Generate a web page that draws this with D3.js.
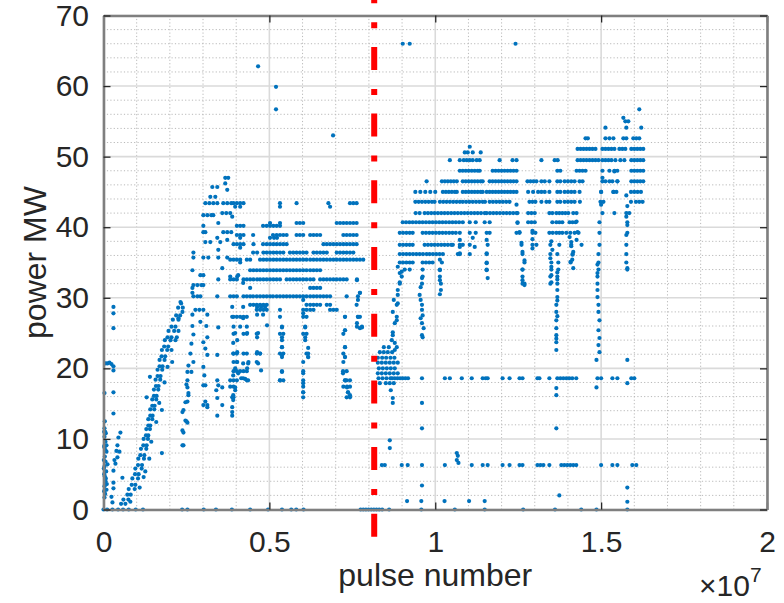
<!DOCTYPE html>
<html><head><meta charset="utf-8">
<script src="https://cdn.jsdelivr.net/npm/d3@7"></script>
<style>
body{margin:0;background:#fff}
svg{display:block}
text{font-family:"Liberation Sans",Arial,Helvetica,sans-serif;}
</style>
</head><body>
<svg id="chart" width="784" height="603"></svg>
<script>
// ---------- values ----------
const PULSE_UNIT = 1e5;               // x values below are pulse number / 1e5
const xTickValues = [0, 5e6, 1e7, 1.5e7, 2e7];
const xTickLabels = ["0", "0.5", "1", "1.5", "2"];
const yTickValues = [0, 10, 20, 30, 40, 50, 60, 70];
const yTickLabels = ["0", "10", "20", "30", "40", "50", "60", "70"];
const xLabel = "pulse number";
const yLabel = "power MW";
const thresholdPulse = 8.16e6;        // red dash-dot marker

// rows: [power MW, [pulse/1e5, ...]]
const zeroRows = [
  [0, [0, 1.1, 2.7, 4.4, 5.9, 7.6, 9.7, 11.9, 23.7, 25.3, 30.2, 33.9, 38.7, 44.2, 49.6, 53.8, 56.6, 58.1, 60.3,
       77.5, 78.3, 79.1, 79.9, 80.7, 81.5, 82.3, 83.1, 84.0, 86.1, 95.8, 105.9, 114.9, 126.5, 136.1, 144.0, 148.6, 157.9]],
  [1.2, [91.5, 95.8, 102.8, 110.2, 114.9]]
];

const bandRows = [
  [18.6, [87, 87.8, 88.6, 89.4, 90.2, 91, 91.8, 96, 102.9, 104.4, 108, 111, 114.3, 115.2, 115.8, 120.3, 122.4, 125.4, 126.3,
          130.8, 131.4, 134.4, 136.8, 137.7, 138.6, 139.5, 140.4, 141.3, 142.5, 148.9, 150, 153.4, 154.9, 159.1, 160]],
  [6.3, [83.9, 84.8, 89.9, 91.7, 96, 102.9, 111, 114.3, 115.8, 120.3, 122.4, 125.4, 126.3, 130.8, 131.7, 132.6, 134.4,
         138, 138.9, 139.8, 140.7, 141.6, 142.5, 150, 153.4, 154.9, 159.4, 160.6]]
];

const rampRows = [
  [0.8,[5.3,6.6]],[1.4,[6.0,7.5]],[2.1,[7.2,8.2]],[2.9,[7.6,9.4]],[3.5,[8.5,9.6]],[4.4,[8.7,10.4]],
  [5.0,[9.5,10.6]],[5.8,[9.6,11.5]],[6.3,[10.4,11.6]],[7.2,[10.5,12.2]],[7.7,[11.1,12.3]],[8.6,[11.3,12.9]],
  [9.1,[12.0,13.0]],[10.0,[12.1,13.4]],[10.5,[12.8,13.5]],[11.4,[12.9,14.0]],[11.9,[13.5,14.1]],[12.8,[13.5,14.7]],
  [13.3,[14.1,14.8]],[14.2,[14.1,15.3]],[14.7,[14.7,15.4]],[15.6,[14.7,15.9]],[16.1,[15.2,16.0]],[17.0,[15.2,16.5]],
  [17.5,[15.8,16.6]],[18.4,[15.7,17.1]],[18.9,[16.3,17.2]],[19.8,[16.3,17.7]],[20.3,[16.9,17.8]],[21.2,[16.9,18.4]],
  [21.7,[17.5,18.6]],[22.6,[17.6,19.2,20.5]],[23.1,[18.3,19.5]],[24.0,[18.5,20.2,21.7]],[24.4,[19.3,20.5,22.1]],
  [25.3,[19.6,21.3,22.6]],[25.9,[20.5,21.7]],[26.9,[20.9,22.6]],[27.5,[21.9,23.1]],[28.6,[22.5,23.9]],[29.2,[23.4]]
];

const plateauRows = [
  [47.0,[36.7,37.6]],[46.2,[36.7]],[45.7,[32.8,34.3]],[45.3,[37.3]],[44.3,[32.2,33.7]],
  [43.4,[30.7,31.9,33.1,34.3,36.1,37.3,38.5,39.2,40.2,41.2,42.2,53.2,58.2,67.8,74.3,75.3,76.3]],
  [42.9,[39.7,41.2,53.2,68.3]],[42.0,[35.8,37.0,38.2]],[41.7,[30.1,31.3,32.5,33.1]],[41.5,[38.8]],
  [40.6,[34.6,50.2,53.2,58.2,59.2,60.2,70.3,71.3,72.3,73.3,74.3,75.3,76.3]],
  [40.2,[30.1,40.2,41.2,42.2,48.1,49.2,50.2,51.2,52.2,53.2]],
  [39.3,[30.1,30.7,36.1,37.3,38.5]],
  [38.9,[40.2,41.2,42.2,45.1,51.1,52.2,53.2,54.2,55.2,58.2,59.2,60.2,62.3,63.3,64.3,65.3,72.3,73.3,74.3,75.3,76.3]],
  [38.5,[34.3,41.2,50.2,51.4,52.3]],[38.2,[37.3]],[37.9,[30.7,32.2,35.2]],
  [37.6,[39.2,40.2,41.2,42.2,45.2,48.1,49.2,50.2,51.2,52.2,53.2,54.2,55.2,66.3,67.3,68.3,69.3,70.3,71.3,72.3,73.3,74.3,75.3,76.3]],
  [37.1,[41.2]],[36.8,[34.6]],
  [36.4,[27.1,45.1,46.3,48.2,49.2,50.2,51.2,52.2,53.2,54.2,56.2,57.2,58.2,59.2,60.2,61.2,63.3,64.3,65.3,66.3,67.3,70.3,71.3,72.3,73.3,74.3,75.3]],
  [35.7,[27.1,30.1,31.6,34.6,37.3]],
  [35.4,[38.2,39.2,40.2,41.2,43.2,44.2,47.2,48.2,49.2,50.2,51.2,52.2,53.2,54.2,55.2,56.2,57.2,58.2,59.2,60.2,61.2,62.3,63.3,64.3,65.3,66.3,67.3,68.3,69.3,70.3,71.3,72.3,73.3,74.3,75.3,76.3,77.3,78.3]],
  [35.0,[41.2]],[34.2,[35.8]],
  [33.9,[26.8,44.2,45.2,46.2,47.2,48.2,49.2,50.2,51.2,52.2,53.2,54.2,55.2,56.2,57.2,58.2,59.2,60.2,61.2,62.3,63.3,64.3,65.3]],
  [33.2,[29.2,30.1,40.6]],[33.0,[38.2,40.3]],
  [32.6,[34.6,38.2,39.2,40.2,42.2,43.2,44.2,45.2,46.3,47.2,48.2,49.2,50.2,51.2,52.2,53.2,55.2,56.2,57.2,58.2,59.2,60.2,61.2,62.3,63.3,65.3,66.3,67.3,68.3,69.3,70.3,71.3,72.3,73.3,76.4]],
  [32.1,[42.1]],[31.8,[27.1,28.3,29.5,30.1]],[31.4,[26.8,44.2,62.3,63.3,64.3,65.3]],[30.7,[26.8,77.3]],
  [30.2,[27.1,28.3,29.2,34.3,38.2,39.2,40.2,42.2,43.2,44.2,45.1,46.2,47.2,48.2,49.2,50.2,51.1,52.2,53.2,54.2,55.2,56.2,57.2,58.2,59.2,60.2,61.2,62.3,63.3,64.3,65.3,66.3,67.3,68.3,73.3,76.7]],
  [29.4,[23.2]],
  [29.0,[44.2,45.2,46.2,47.2,48.2,49.2,61.2,62.3,63.3,64.3,65.3,67.3,68.3,76.3]],
  [28.7,[38.8,42.1,46.3,47.5,48.7]],
  [28.3,[27.7,28.9,30.1,46.2,47.2,48.2,49.2,53.2,60.2,61.2,62.3,63.3,68.3,69.3,70.3]],
  [28.0,[23.8]],[27.6,[26.8,31.3,46.3,48.1]],
  [27.3,[38.8,39.2,40.2,41.2,42.2,43.2,53.2,60.2,61.2,72.8,76.7,77.3]],
  [27.1,[22.6,42.1]],[26.6,[29.2]],[26.1,[49.3]],
  [25.9,[39.2,41.2,43.2,53.8,60.8,76.4,77.9]],[25.4,[72.8]],[25.0,[46.6]],
  [24.9,[39.2,42.2,43.2,46.2,53.2,54.2,60.2,61.2,72.3]],[24.0,[53.8,60.8]],[23.0,[53.8,72.8]],
  [22.1,[39.2,40.2,42.2,43.2,46.2,47.2,53.2,54.2,61.2,61.7,72.3]],[21.6,[53.8,61.7,72.8]],
  [20.9,[39.2,40.2,43.7,46.2,60.2,72.3]],
  [19.6,[39.2,40.2,41.2,42.2,43.2,53.8,60.2,72.2,73.3]],
  [18.3,[39.2,40.2,43.2,53.2,54.2,60.2,72.8,73.3,74.3]],
  [17.4,[38.2,39.2,60.2,72.3,73.4,74.3]],[16.6,[60.2,73.7]],[15.9,[39.2,60.2,73.3,74.3]]
];

const upperRightRows = [
  [56.7,[161.5]],[55.5,[156.7]],[55.0,[157.3,158.2]],[54.1,[151.3,157.6,162.1]],
  [52.6,[145.3,146.0,151.3,152.5,153.7,156.7,157.6,159.7,160.6,161.5]],
  [51.4,[110.4]],
  [51.1,[142.9,143.8,144.7,145.6,146.5,147.4,148.3,150.4,151.3,152.2,153.1,154.0,155.5,156.4,157.3,159.1,160.0,160.9,161.8,162.7]],
  [50.6,[108.9,109.8,111.3,113.7]],
  [49.5,[104.4,107.4,108.6,109.5,110.4,111.3,112.5,113.4,119.4,123.3,124.5,132.0,136.0,136.9,142.9,143.8,144.7,145.6,146.5,147.4,148.3,149.2,150.4,151.3,152.2,153.1,154.3,155.8,157.0,159.1,160.0,160.9,161.8,162.7]],
  [48.0,[107.4,108.3,109.2,110.1,111.0,111.9,112.8,113.4,117.3,118.2,119.1,120.0,120.9,121.8,122.7,123.6,124.5,136.8,137.7,142.6,143.5,144.4,145.3,150.4,152.5,154.0,154.9,159.1,160.0,160.9,161.8,162.7]],
  [46.5,[97.4,102.0,102.9,103.8,104.7,105.6,106.5,108.3,109.2,110.1,111.0,111.9,112.8,113.7,114.3,116.4,117.3,118.2,119.1,120.0,120.9,121.8,122.7,123.6,124.5,127.8,128.7,129.6,130.5,132.0,133.0,134.4,136.8,137.7,139.0,140.0,141.0,142.0,143.5,144.4,150.4,151.3,152.5,153.4,154.9,159.1,160.0,160.9,161.8,162.7]],
  [45.0,[94.0,95.5,97.0,98.5,100.0,102.3,103.2,104.1,105.0,105.9,106.5,108.3,109.2,110.1,111.0,111.9,112.8,113.7,114.3,115.5,116.4,117.3,118.2,119.1,120.0,120.9,121.8,122.7,123.6,124.5,128.0,129.5,131.0,132.0,133.0,134.4,136.8,137.7,139.0,140.0,141.0,142.0,143.5,150.0,153.7,154.6,159.0,160.0,161.0,162.0]],
  [43.6,[94.0,95.0,96.0,97.0,98.0,99.0,99.8,101.4,102.4,103.4,104.4,105.4,106.4,107.4,108.3,109.3,110.3,111.3,112.3,113.3,114.3,115.0,116.4,117.4,118.4,119.4,120.4,121.4,122.4,128.4,129.3,130.2,132.0,133.5,134.4,136.8,137.7,139.0,140.0,141.0,142.0,143.6,149.8,150.7,159.0,160.5,161.5,162.5]],
  [42.0,[94.1,95.3,96.8,97.8,98.8,99.8,100.8,101.8,102.8,103.8,104.8,105.8,106.8,107.8,108.8,109.8,110.8,111.8,112.8,113.8,114.9,115.5,116.5,117.5,118.5,119.5,120.5,121.5,122.5,123.5,124.5,128.0,129.0,130.0,134.4,135.3,136.5,137.4,138.3,139.2,140.1,141.6,142.6,150.4,154.0,157.6,158.5]],
  [40.7,[90.2,91.2,92.2,93.2,94.2,95.2,96.2,97.2,98.2,99.2,100.2,101.2,102.2,103.2,104.2,105.2,106.2,107.2,108.3,110.4,112.2,114.9,116.4,124.8,128.0,129.0,130.0,135.3,136.5,137.4,138.3,140.5,141.4,142.3,149.5,157.9]],
  [39.2,[89.3,90.3,91.3,92.3,93.2,96.2,97.2,98.2,99.2,100.2,101.2,102.2,103.2,104.2,105.2,106.2,107.4,110.4,112.2,115.5,116.4,124.5,125.4,129.3,130.2,134.4,135.4,136.5,137.4,138.3,139.5,140.7,142.0,143.2,149.5,157.9]],
  [37.5,[89.3,90.3,91.3,92.3,93.2,96.8,97.8,98.8,99.8,100.8,101.8,102.8,103.8,104.8,105.3,107.4,108.3,110.4,115.8,126.0,129.3,130.5,134.7,137.4,141.0,144.1,149.5,157.6]],
  [36.2,[89.3,90.3,91.3,92.3,93.3,94.3,95.3,96.3,97.4,98.3,99.3,100.3,101.3,102.3,106.8,107.4,110.4,115.5,126.3,134.7,136.8,141.4,149.2,157.6]],
  [35.0,[89.3,90.3,91.3,92.3,93.2,96.2,97.2,98.2,99.2,102.0,115.5,126.9,135.0,137.1,140.8,149.2,157.6]],
  [34.0,[90.8,92.3,96.2,101.4,115.5,126.3,135.0,137.1,149.2,157.9]],
  [33.0,[89.9,96.2,101.4,126.3,134.7,136.8,148.9]],
  [32.0,[89.3,96.0,101.7,126.3,126.9,134.7,136.8,148.9]]
];

const clusterRows = [
  [23.0,[84.5,86.0,88.4]],[22.3,[83.3,84.5,85.7,87.0]],[21.5,[82.7,84.0,85.2,86.5,87.7]],
  [20.8,[82.7,83.9,85.1,86.3,87.5,88.7]],[20.0,[83.0,84.2,85.4,86.6,87.8]],
  [19.3,[82.7,83.9,85.1,86.3,87.5,88.7]],[18.6,[82.9,84.1,85.3,86.5]],[17.9,[83.3,85.1,87.5]]
];

// points: [pulse/1e5, power MW]
const earlyPoints = [
  [0.3,11.5],[0.5,11.0],[0.3,10.3],[0.6,9.6],[0.3,8.8],[0.9,8.2],[0.4,7.5],[0.6,6.8],[0.3,6.1],[0.8,5.4],
  [0.4,4.7],[0.6,4.0],[0.3,3.3],[0.9,2.8],[0.5,2.2],[0.3,1.7],[1.0,3.6],[0.2,5.0],[1.2,6.4],[0.2,9.0],
  [0.7,10.8],[0.4,12.5],[0.1,7.0],[0.2,2.6],[0.7,4.4],[0.1,5.8],[0.6,8.4],[0.2,11.0],[0.9,9.1],
  [0.6,20.7],[1.2,20.7],[1.8,20.8],[2.4,20.6],[3.0,20.3],[3.0,19.7],[3.0,16.6],[3.0,13.6],[3.0,28.7],
  [3.0,27.8],[3.0,25.7],[0.3,16.5],
  [5.1,10.9],[4.5,10.2],[4.2,9.1],[4.2,7.4],[3.6,6.5],[3.0,5.5],[3.0,3.8],[3.0,3.0],[2.7,1.0],[5.7,4.5],
  [4.8,8.2],[3.3,7.0],[3.9,8.3],[2.4,1.8],
  [12.1,4.6],[17.6,8.0],[17.6,14.1],[20.7,20.9],[13.8,7.2],[8.1,1.1],[10.9,3.1],[12.6,5.4],[14.4,9.6],
  [15.9,12.4],[16.8,15.1],[13.0,15.9],[14.0,18.8],[18.4,18.0],[19.3,20.2]
];

const midPoints = [
  [24.1,9.1],[24.1,10.9],[25.0,12.5],[24.1,14.1],[25.3,15.3],[25.6,16.5],[25.0,17.7],[26.2,22.1],[27.1,20.9],
  [26.5,19.5],[25.6,20.4],[25.3,19.5],[25.3,18.3],[25.3,17.3],[25.6,16.2],[24.7,15.2],[23.8,13.8],[24.7,12.6],
  [25.3,12.3],[23.8,11.2],[23.8,9.1],[26.5,23.5],[27.1,24.8],[26.8,26.0],
  [31.3,24.4],[30.1,23.7],[31.3,21.9],[30.1,20.2],[30.7,17.6],[30.1,14.8],[31.3,14.8],[30.1,17.6],[30.7,15.3],
  [31.3,14.5],[30.4,19.0],[30.7,22.8],[31.0,26.0],
  [34.3,21.9],[34.3,18.3],[34.6,17.6],[34.3,15.8],[34.3,13.3],[35.8,17.3],[35.8,14.8],[34.0,16.9],[34.6,25.8],
  [40.3,24.0],[40.3,22.3],[39.1,22.1],[40.3,20.9],[39.7,20.0],[42.1,20.7],[43.3,20.0],[39.1,19.0],[39.7,17.3],
  [38.8,15.9],[38.8,13.8],[42.1,18.6],[43.6,20.7],[46.3,22.3],[46.6,20.7],[46.3,24.4],[43.3,25.0],[39.7,25.0],
  [39.1,23.6],[38.2,18.3],[39.7,16.9],[39.1,16.2],[39.1,15.5],[38.8,14.5],[38.8,13.3],[40.6,19.3],[41.5,18.6],
  [42.7,18.5],[43.6,18.3],[47.2,22.1],[47.5,19.7],
  [53.8,25.8],[53.8,24.4],[53.8,23.0],[53.8,21.9],[53.8,19.5],[53.2,18.3],
  [60.2,29.7],[60.2,27.8],[60.8,25.8],[60.8,24.4],[61.7,22.9],[61.7,21.6],[60.2,19.3],[60.2,17.9],[60.2,16.6],
  [72.8,27.3],[72.8,25.4],[72.8,23.0],[72.8,21.6],[72.2,19.3],[73.4,17.3],[73.7,16.6],[72.8,18.3],[74.3,16.2],
  [76.4,32.5],[77.3,30.7],[76.7,29.7],[76.4,26.4],[77.3,25.7],[76.7,27.3],[77.9,25.8]
];

const rightStrandPoints = [
  [87.8,22.6],[87.2,24.7],[87.8,26.4],[88.4,27.3],[88.4,29.0],[88.7,30.4],[88.7,31.1],[89.3,32.2],[89.9,33.7],
  [86.9,24.0],[87.2,28.0],[87.5,29.7],[88.7,34.4],[89.3,33.5],[87.2,25.1],[87.8,23.6],[88.4,26.8],[88.7,29.2],
  [96.0,32.8],[95.3,30.4],[96.0,29.0],[96.2,27.5],[96.0,26.4],[96.0,24.7],[95.6,29.7],[96.0,28.3],[95.6,27.1],
  [96.5,25.7],[96.2,24.4],[95.6,31.5],
  [101.4,35.4],[101.4,33.9],[101.4,32.5],[101.7,31.1],[101.4,30.5],
  [107.4,38.2],[107.4,37.2],[107.4,36.3],[111.3,38.5],[111.9,37.2],
  [115.5,38.2],[115.5,36.3],[115.5,34.9],[115.5,33.9],[115.8,32.8],
  [124.5,43.2],[124.8,42.0],[124.8,40.6],[125.4,39.3],[126.0,37.8],[126.3,36.5],[126.9,35.3],[126.3,34.0],
  [126.3,32.5],[126.9,31.8],
  [129.3,39.5],[129.3,38.3],[129.3,37.0],
  [135.0,38.0],[135.3,36.8],[134.7,35.6],[135.0,34.4],[135.0,33.2],[135.0,32.2],
  [136.8,33.6],[136.8,32.6],[136.8,31.1],[136.8,30.1],[136.5,29.0],[136.5,28.0],[136.5,26.8],[136.5,25.7],
  [136.5,24.7],[136.5,23.7],[136.5,22.6],[136.8,27.4],[136.5,24.2],[136.8,29.6],
  [140.5,38.6],[141.0,37.3],[141.4,36.1],[140.8,35.1],[141.6,34.2],[141.0,37.9],[141.6,36.5],[141.3,35.4],
  [142.6,40.8],[142.9,39.3],[142.6,38.2],
  [148.9,31.1],[148.9,30.1],[149.2,29.0],[149.2,28.0],[149.5,26.8],[149.2,25.4],[149.5,24.3],[149.2,23.3],
  [149.5,22.3],[148.9,33.5],[148.9,34.7],
  [150.4,47.0],[150.0,45.0],[150.0,43.2],[154.0,47.9],[154.9,46.5],[153.7,45.0],
  [157.6,44.5],[157.9,43.0],[157.6,41.5],[157.9,40.3],[157.6,38.9],[157.9,34.2],
  [106.5,7.0],[106.8,7.6],[106.5,8.0],[107.0,6.6]
];

const lowPoints = [
  [86.3,9.8],[86.3,8.7],[96.0,3.4],[137.4,2.0],[157.9,3.1],[157.9,1.1],[96.0,15.1],[96.0,11.5],
  [136.5,11.5],[136.5,17.2],[136.5,16.2],[148.6,17.3],[157.9,17.9],[157.9,21.2],[148.6,21.2],[87.2,15.1],
  [87.2,15.8],[86.6,16.9],[86.3,17.9]
];

const outlierPoints = [
  [46.6,62.8],[52.0,59.9],[52.0,56.7],[69.2,53.0],[90.2,66.0],[92.3,66.0],[124.2,66.0]
];

// ---------- drawing ----------
const W = 784, H = 603;
const plot = {left: 103.5, right: 767, top: 15.5, bottom: 509.5};
const x = d3.scaleLinear().domain([0, 2e7]).range([plot.left, plot.right]);
const y = d3.scaleLinear().domain([0, 70]).range([plot.bottom, plot.top]);

const svg = d3.select("#chart");
svg.append("rect").attr("width", W).attr("height", H).attr("fill", "#fff");

// minor grid (dotted)
const gMinor = svg.append("g");
gMinor.selectAll("line.vx").data(x.ticks(20).filter(v => v % 5e6 !== 0)).join("line")
  .attr("x1", d => x(d)).attr("x2", d => x(d)).attr("y1", plot.top).attr("y2", plot.bottom);
gMinor.selectAll("line.hy").data(y.ticks(35).filter(v => v % 10 !== 0)).join("line")
  .attr("x1", plot.left).attr("x2", plot.right).attr("y1", d => y(d)).attr("y2", d => y(d));
gMinor.selectAll("line").attr("stroke", "#b9b9b9").attr("stroke-width", 1).attr("stroke-dasharray", "1.2,2.2");

// major grid
const gMajor = svg.append("g");
gMajor.selectAll("line.v").data(xTickValues).join("line")
  .attr("x1", d => x(d)).attr("x2", d => x(d)).attr("y1", plot.top).attr("y2", plot.bottom);
gMajor.selectAll("line.h").data(yTickValues).join("line")
  .attr("x1", plot.left).attr("x2", plot.right).attr("y1", d => y(d)).attr("y2", d => y(d));
gMajor.selectAll("line").attr("stroke", "#dadada").attr("stroke-width", 1.6);

// points
const pts = [];
[zeroRows, bandRows, rampRows, plateauRows, upperRightRows, clusterRows].forEach(rows =>
  rows.forEach(([p, xs]) => xs.forEach(u => pts.push([u, p]))));
[earlyPoints, midPoints, rightStrandPoints, lowPoints, outlierPoints].forEach(list =>
  list.forEach(d => pts.push(d)));

svg.append("g").selectAll("circle").data(pts).join("circle")
  .attr("cx", d => x(d[0] * PULSE_UNIT))
  .attr("cy", d => y(d[1]))
  .attr("r", 2.1)
  .attr("fill", "#0072BD");

// axes
const fontFamily = '"Liberation Sans", Arial, Helvetica, sans-serif';
function styleAxis(g) {
  g.attr("font-family", fontFamily).attr("font-size", 30);
  g.select(".domain").attr("stroke", "#7f7f7f").attr("stroke-width", 2.6);
  g.selectAll(".tick line").attr("stroke", "#262626").attr("stroke-width", 1.3);
  g.selectAll(".tick text").attr("fill", "#262626");
}
svg.append("g").attr("transform", `translate(0,${plot.bottom})`)
  .call(d3.axisBottom(x).tickValues(xTickValues).tickFormat((d, i) => xTickLabels[i])
        .tickSizeInner(-7).tickSizeOuter(0).tickPadding(21.5))
  .call(styleAxis);
svg.append("g").attr("transform", `translate(0,${plot.top})`)
  .call(d3.axisTop(x).tickValues(xTickValues).tickFormat("").tickSizeInner(-7).tickSizeOuter(0))
  .call(styleAxis);
svg.append("g").attr("transform", `translate(${plot.left},0)`)
  .call(d3.axisLeft(y).tickValues(yTickValues).tickFormat((d, i) => yTickLabels[i])
        .tickSizeInner(-7).tickSizeOuter(0).tickPadding(14.5))
  .call(styleAxis);
svg.append("g").attr("transform", `translate(${plot.right},0)`)
  .call(d3.axisRight(y).tickValues(yTickValues).tickFormat("").tickSizeInner(-7).tickSizeOuter(0))
  .call(styleAxis);

// red dash-dot marker line
svg.append("line")
  .attr("x1", x(thresholdPulse)).attr("x2", x(thresholdPulse))
  .attr("y1", y(75)).attr("y2", y(-4.4))
  .attr("stroke", "#ff0000").attr("stroke-width", 6)
  .attr("stroke-dasharray", "23,19,6,18.7");

// labels
svg.append("text").attr("x", (plot.left + plot.right) / 2).attr("y", 586)
  .attr("text-anchor", "middle").attr("font-size", 32).attr("fill", "#262626").text(xLabel);
svg.append("text").attr("transform", `translate(46,${(plot.top + plot.bottom) / 2}) rotate(-90)`)
  .attr("text-anchor", "middle").attr("font-size", 32).attr("fill", "#262626").text(yLabel);
const ex = svg.append("text").attr("x", 699).attr("y", 596).attr("fill", "#262626").attr("font-size", 30);
ex.append("tspan").text("×10");
ex.append("tspan").attr("font-size", 21).attr("dy", -14).text("7");
</script>
</body></html>
